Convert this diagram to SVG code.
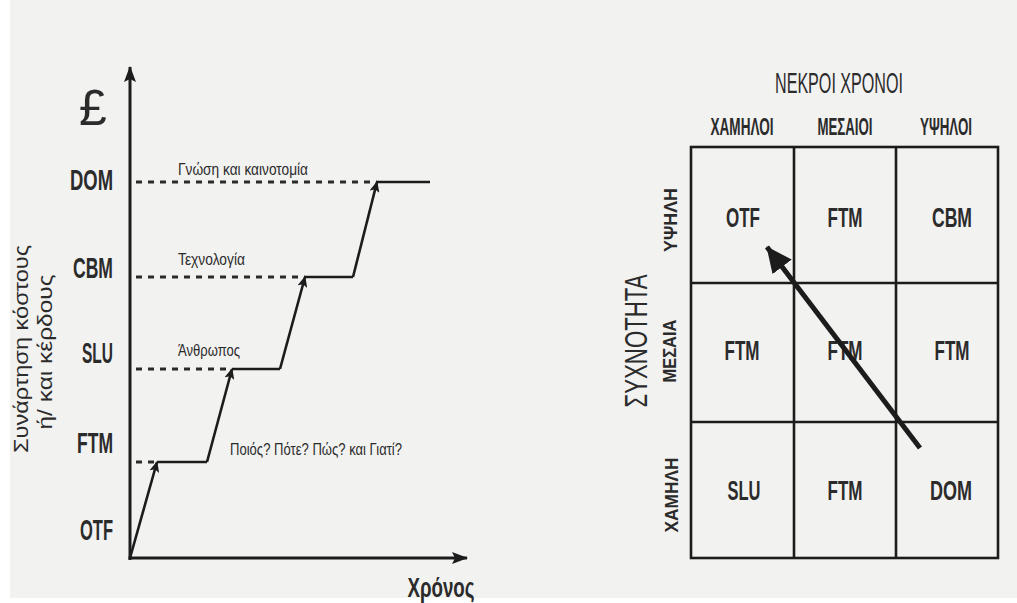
<svg xmlns="http://www.w3.org/2000/svg" width="1017" height="603" viewBox="0 0 1017 603">
<style>
.bg{fill:#f2f2f1}
.ln{stroke:#1c1c1c;stroke-width:2.6;fill:none}
.ax{stroke:#1c1c1c;stroke-width:3;fill:none}
.dot{stroke:#2a2a2a;stroke-width:3;stroke-dasharray:6 6;fill:none}
.grid{stroke:#1c1c1c;stroke-width:2.6;fill:none}
.t{font-family:"Liberation Sans Narrow","Liberation Sans",Arial,sans-serif;fill:#2b2b2b}
.b{font-weight:bold}
.lvl{font-size:30px;font-weight:bold;text-anchor:end}
.sm{font-size:17px}
.cell{font-size:28px;font-weight:bold;text-anchor:middle}
.hd{font-size:24px;font-weight:bold;text-anchor:middle}
.rw{font-size:19px;font-weight:bold;text-anchor:middle}
</style>
<defs>
<marker id="ah" viewBox="0 0 11 10" refX="10" refY="5" markerWidth="11" markerHeight="10" markerUnits="userSpaceOnUse" orient="auto">
<path d="M0,0 L11,5 L0,10 L2.5,5 Z" fill="#1c1c1c"/>
</marker>
<marker id="axh" viewBox="0 0 16 12" refX="15" refY="6" markerWidth="16" markerHeight="12" markerUnits="userSpaceOnUse" orient="auto">
<path d="M0,0 L16,6 L0,12 L3,6 Z" fill="#1c1c1c"/>
</marker>
<marker id="big" viewBox="0 0 26 24" refX="25" refY="12" markerWidth="26" markerHeight="24" markerUnits="userSpaceOnUse" orient="auto">
<path d="M0,0 L26,12 L0,24 Z" fill="#1c1c1c"/>
</marker>
</defs>
<rect x="0" y="0" width="1017" height="603" fill="#ffffff"/>
<rect class="bg" x="10" y="0" width="1007" height="598"/>

<g id="left-chart">
<g id="axes">
<line class="ax" x1="130" y1="560" x2="130" y2="67" marker-end="url(#axh)"/>
<line class="ax" x1="128.5" y1="558" x2="467" y2="558" marker-end="url(#axh)"/>
</g>
<text class="t" x="93" y="125" font-size="50" text-anchor="middle">£</text>
<g id="y-label">
<text class="t" transform="translate(28,349) rotate(-90)" font-size="21" text-anchor="middle" textLength="208" lengthAdjust="spacingAndGlyphs">Συνάρτηση κόστους</text>
<text class="t" transform="translate(52,352) rotate(-90)" font-size="21" text-anchor="middle" textLength="155" lengthAdjust="spacingAndGlyphs">ή/ και κέρδους</text>
</g>
<text class="t b" x="441" y="597" font-size="28" text-anchor="middle" textLength="67" lengthAdjust="spacingAndGlyphs">Χρόνος</text>

<g id="level-DOM"><text class="t lvl" x="113" y="190" textLength="43" lengthAdjust="spacingAndGlyphs">DOM</text></g>
<g id="level-CBM"><text class="t lvl" x="113" y="278" textLength="40" lengthAdjust="spacingAndGlyphs">CBM</text></g>
<g id="level-SLU"><text class="t lvl" x="113" y="363" textLength="31" lengthAdjust="spacingAndGlyphs">SLU</text></g>
<g id="level-FTM"><text class="t lvl" x="113" y="453" textLength="36" lengthAdjust="spacingAndGlyphs">FTM</text></g>
<g id="level-OTF"><text class="t lvl" x="113" y="540" textLength="33" lengthAdjust="spacingAndGlyphs">OTF</text></g>

<g id="step-labels">
<text class="t sm" x="178" y="175" textLength="130" lengthAdjust="spacingAndGlyphs">Γνώση και καινοτομία</text>
<text class="t sm" x="178" y="265" textLength="67" lengthAdjust="spacingAndGlyphs">Τεχνολογία</text>
<text class="t sm" x="178" y="356" textLength="62" lengthAdjust="spacingAndGlyphs">Άνθρωπος</text>
<text class="t sm" x="230" y="455" textLength="172" lengthAdjust="spacingAndGlyphs">Ποιός? Πότε? Πώς? και Γιατί?</text>
</g>

<g id="connectors-left">
<line class="dot" x1="136" y1="182" x2="377" y2="182"/>
<line class="dot" x1="136" y1="277" x2="305" y2="277"/>
<line class="dot" x1="136" y1="369" x2="232" y2="369"/>
<line class="dot" x1="136" y1="462" x2="157" y2="462"/>
<line class="ln" x1="130" y1="558" x2="157" y2="462" marker-end="url(#ah)"/>
<line class="ln" x1="157" y1="462" x2="207" y2="462"/>
<line class="ln" x1="207" y1="462" x2="232" y2="369" marker-end="url(#ah)"/>
<line class="ln" x1="232" y1="369" x2="280" y2="369"/>
<line class="ln" x1="280" y1="369" x2="305" y2="277" marker-end="url(#ah)"/>
<line class="ln" x1="305" y1="277" x2="353" y2="277"/>
<line class="ln" x1="353" y1="277" x2="377" y2="182" marker-end="url(#ah)"/>
<line class="ln" x1="377" y1="182" x2="430" y2="182"/>
</g>
</g>

<g id="matrix">
<text class="t" x="839" y="93" font-size="30" text-anchor="middle" textLength="128" lengthAdjust="spacingAndGlyphs">ΝΕΚΡΟΙ ΧΡΟΝΟΙ</text>
<text class="t hd" x="742" y="135" textLength="63" lengthAdjust="spacingAndGlyphs">ΧΑΜΗΛΟΙ</text>
<text class="t hd" x="845" y="135" textLength="55" lengthAdjust="spacingAndGlyphs">ΜΕΣΑΙΟΙ</text>
<text class="t hd" x="946" y="135" textLength="52" lengthAdjust="spacingAndGlyphs">ΥΨΗΛΟΙ</text>
<text class="t" transform="translate(647,341) rotate(-90)" font-size="31" text-anchor="middle" textLength="133" lengthAdjust="spacingAndGlyphs">ΣΥΧΝΟΤΗΤΑ</text>
<text class="t rw" transform="translate(677,220) rotate(-90)" textLength="64" lengthAdjust="spacingAndGlyphs">ΥΨΗΛΗ</text>
<text class="t rw" transform="translate(676,351) rotate(-90)" textLength="63" lengthAdjust="spacingAndGlyphs">ΜΕΣΑΙΑ</text>
<text class="t rw" transform="translate(678,495) rotate(-90)" textLength="75" lengthAdjust="spacingAndGlyphs">ΧΑΜΗΛΗ</text>
<g id="grid-lines">
<rect class="grid" x="691" y="147" width="307" height="411"/>
<line class="grid" x1="794" y1="147" x2="794" y2="558"/>
<line class="grid" x1="896" y1="147" x2="896" y2="558"/>
<line class="grid" x1="691" y1="283" x2="998" y2="283"/>
<line class="grid" x1="691" y1="422" x2="998" y2="422"/>
</g>
<g id="cell-r1c1"><text class="t cell" x="743" y="227" textLength="34" lengthAdjust="spacingAndGlyphs">OTF</text></g>
<g id="cell-r1c2"><text class="t cell" x="845" y="227" textLength="35" lengthAdjust="spacingAndGlyphs">FTM</text></g>
<g id="cell-r1c3"><text class="t cell" x="952" y="227" textLength="40" lengthAdjust="spacingAndGlyphs">CBM</text></g>
<g id="cell-r2c1"><text class="t cell" x="742" y="360" textLength="35" lengthAdjust="spacingAndGlyphs">FTM</text></g>
<g id="cell-r2c2"><text class="t cell" x="845" y="360" textLength="35" lengthAdjust="spacingAndGlyphs">FTM</text></g>
<g id="cell-r2c3"><text class="t cell" x="952" y="360" textLength="35" lengthAdjust="spacingAndGlyphs">FTM</text></g>
<g id="cell-r3c1"><text class="t cell" x="744" y="500" textLength="33" lengthAdjust="spacingAndGlyphs">SLU</text></g>
<g id="cell-r3c2"><text class="t cell" x="845" y="500" textLength="35" lengthAdjust="spacingAndGlyphs">FTM</text></g>
<g id="cell-r3c3"><text class="t cell" x="951" y="500" textLength="42" lengthAdjust="spacingAndGlyphs">DOM</text></g>
<g id="connectors-right">
<line x1="920" y1="448" x2="767" y2="247" stroke="#1c1c1c" stroke-width="5" marker-end="url(#big)"/>
</g>
</g>
</svg>
